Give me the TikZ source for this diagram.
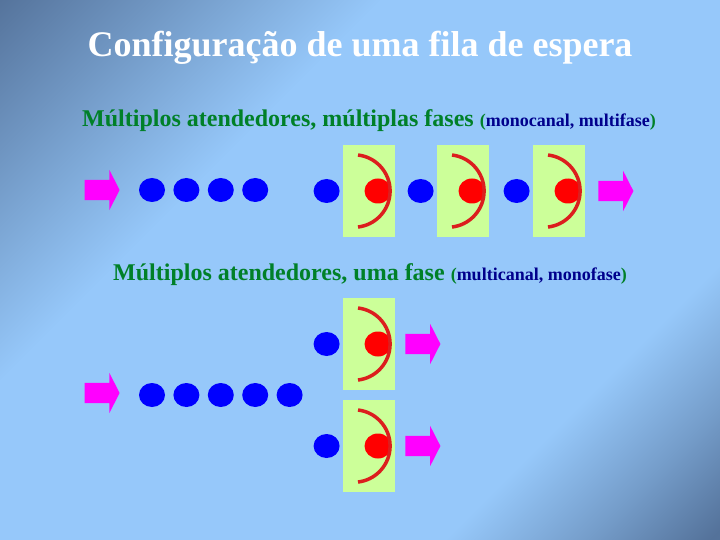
\documentclass[tikz,border=0pt]{standalone}
\usepackage{fontspec}
\setmainfont{Liberation Serif}
\usetikzlibrary{positioning,shapes.geometric,shapes.arrows}

\definecolor{bgdark}{RGB}{84,114,154}
\definecolor{bglight}{RGB}{150,200,250}
\definecolor{fasegreen}{RGB}{0,128,40}
\definecolor{canalblue}{RGB}{0,0,140}
\definecolor{boxgreen}{RGB}{204,255,153}
\definecolor{arcred}{RGB}{220,30,30}
\definecolor{flowpink}{RGB}{255,0,255}

\pgfdeclareverticalshading{slidebg}{100bp}{color(0bp)=(bgdark); color(15bp)=(bgdark); color(22bp)=(bglight!50!bgdark); color(30bp)=(bglight); color(64bp)=(bglight); color(76bp)=(bglight!45!bgdark); color(86bp)=(bgdark); color(100bp)=(bgdark)}

\newcommand{\canaltxt}[1]{{\fontsize{18}{20}\selectfont(\textcolor{canalblue}{#1})}}

\begin{document}
\begin{tikzpicture}[
x=1pt, y=-1pt,
heading/.style={anchor=base, inner sep=0pt, text=white, font=\fontsize{36}{40}\selectfont\bfseries},
subhead/.style={anchor=base west, inner sep=0pt, text=fasegreen, font=\fontsize{24}{28}\selectfont\bfseries},
cust/.style={ellipse, fill=blue, minimum width=26pt, minimum height=24pt, inner sep=0pt},
busy/.style={ellipse, fill=red, minimum width=27pt, minimum height=25pt, inner sep=0pt},
srvbox/.style={rectangle, fill=boxgreen, minimum width=52pt, minimum height=92pt, inner sep=0pt},
srvarc/.style={draw=arcred, line width=3.5pt},
flow/.style={single arrow, fill=flowpink, minimum height=35pt, inner xsep=0pt, inner ysep=10pt, single arrow head extend=10pt, single arrow tip angle=126}
]

% Background
\useasboundingbox (0,0) rectangle (720,540);
\shade[shading=slidebg, shading angle=45] (0,0) rectangle (720,540);

% Titles
\node (titulo) [heading] at (360,57) {Configuração de uma fila de espera};
\node (fase1) [subhead] at (82,127) {Múltiplos atendedores, múltiplas fases \canaltxt{monocanal, multifase}};
\node (fase2) [subhead] at (113,280) {Múltiplos atendedores, uma fase \canaltxt{multicanal, monofase}};

% Single channel, several phases
\node (in1) [flow] at (99.5,190) {};
\node (a1) [cust] at (152,190) {};
\node (a2) [cust, right=8pt of a1] {};
\node (a3) [cust, right=8pt of a2] {};
\node (a4) [cust, right=8pt of a3] {};

\node (s1) [srvbox] at (369,191) {};
\node (s2) [srvbox] at (463,191) {};
\node (s3) [srvbox] at (559,191) {};
\node (q1) [cust, left=3pt of s1] {};
\node (q2) [cust, left=3pt of s2] {};
\node (q3) [cust, left=3pt of s3] {};
\node (r1) [busy] at ([xshift=9pt]s1.center) {};
\node (r2) [busy] at ([xshift=9pt]s2.center) {};
\node (r3) [busy] at ([xshift=9pt]s3.center) {};
\draw [srvarc] ([shift={(-11pt,36pt)}]s1.center) arc[start angle=83.4, end angle=-83.4, radius=36.25pt];
\draw [srvarc] ([shift={(-11pt,36pt)}]s2.center) arc[start angle=83.4, end angle=-83.4, radius=36.25pt];
\draw [srvarc] ([shift={(-11pt,36pt)}]s3.center) arc[start angle=83.4, end angle=-83.4, radius=36.25pt];
\node (out1) [flow, right=13pt of s3] {};

% Several channels, one phase
\node (in2) [flow] at (99.5,393) {};
\node (b1) [cust] at (152,395) {};
\node (b2) [cust, right=8pt of b1] {};
\node (b3) [cust, right=8pt of b2] {};
\node (b4) [cust, right=8pt of b3] {};
\node (b5) [cust, right=8pt of b4] {};

\node (s4) [srvbox] at (369,344) {};
\node (s5) [srvbox] at (369,446) {};
\node (q4) [cust, left=3pt of s4] {};
\node (q5) [cust, left=3pt of s5] {};
\node (r4) [busy] at ([xshift=9pt]s4.center) {};
\node (r5) [busy] at ([xshift=9pt]s5.center) {};
\draw [srvarc] ([shift={(-11pt,36pt)}]s4.center) arc[start angle=83.4, end angle=-83.4, radius=36.25pt];
\draw [srvarc] ([shift={(-11pt,36pt)}]s5.center) arc[start angle=83.4, end angle=-83.4, radius=36.25pt];
\node (out2) [flow, right=10pt of s4] {};
\node (out3) [flow, right=10pt of s5] {};

\end{tikzpicture}
\end{document}
